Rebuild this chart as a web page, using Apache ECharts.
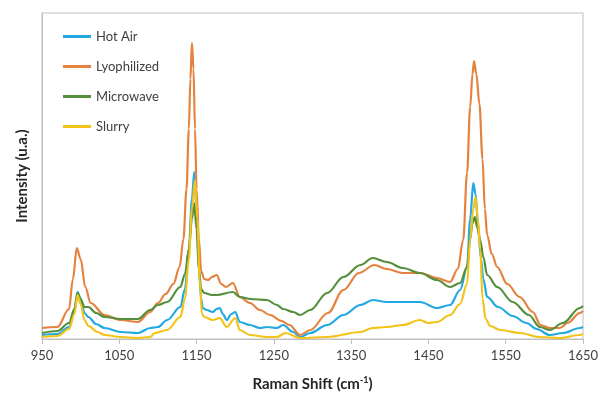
<!DOCTYPE html>
<html>
<head>
<meta charset="utf-8">
<script src="https://cdn.jsdelivr.net/npm/echarts@6/dist/echarts.min.js"></script>
<style>
  html, body { margin: 0; padding: 0; background: #fff; }
  #chart { width: 612px; height: 400px; }
</style>
</head>
<body>
<div id="chart"></div>
<script>
// Raman shift ticks (cm-1)
var xTicks = [950, 1050, 1150, 1250, 1350, 1450, 1550, 1650]
var seriesNames = ['Hot Air', 'Lyophilized', 'Microwave', 'Slurry']

// Hot Air
var hotAirX = [950, 970, 985, 992, 996, 1000, 1005, 1010, 1020, 1031, 1052, 1074, 1090, 1100, 1112, 1129, 1135, 1140, 1144, 1147, 1150, 1153, 1156, 1158, 1163, 1171, 1176, 1180, 1184, 1189, 1195, 1200, 1206, 1219, 1232, 1241, 1254, 1262, 1275, 1284, 1297, 1319, 1340, 1362, 1378, 1396, 1417, 1439, 1461, 1478, 1491, 1500, 1504, 1508, 1511, 1514, 1518, 1521, 1526, 1540, 1559, 1577, 1590, 1607, 1624, 1646, 1650]
var hotAirY = [4, 5, 12, 30, 47, 40, 26, 22, 15, 11, 7, 6, 11, 12, 19, 32, 50, 90, 140, 167, 130, 70, 40, 31, 29, 27, 30, 31, 25, 19, 25, 27, 17, 14, 11, 12, 11, 14, 7, 2, 6, 14, 24, 34, 39, 37, 37, 37, 31, 34, 49, 72, 120, 156, 145, 116, 80, 60, 42, 32, 23, 16, 10, 4, 6, 11, 12]

// Lyophilized
var lyoX = [950, 970, 985, 990, 995, 1000, 1006, 1013, 1031, 1052, 1074, 1090, 1100, 1110, 1120, 1128, 1133, 1137, 1140, 1142, 1144, 1146, 1148, 1150, 1153, 1156, 1160, 1165, 1170, 1176, 1182, 1188, 1197, 1206, 1219, 1232, 1245, 1260, 1270, 1284, 1297, 1320, 1340, 1360, 1380, 1396, 1417, 1440, 1461, 1478, 1488, 1495, 1500, 1504, 1507, 1509, 1512, 1516, 1520, 1523, 1526, 1532, 1539, 1552, 1568, 1585, 1595, 1607, 1620, 1630, 1646, 1650]
var lyoY = [11, 12, 30, 60, 91, 80, 52, 36, 24, 19, 17, 27, 36, 45, 55, 72, 100, 150, 210, 260, 296, 270, 210, 150, 100, 68, 60, 59, 62, 64, 55, 52, 56, 42, 36, 29, 24, 18, 14, 4, 9, 26, 49, 66, 74, 70, 66, 66, 61, 57, 70, 99, 166, 232, 265, 278, 265, 235, 180, 130, 104, 85, 72, 55, 42, 27, 14, 11, 11, 16, 26, 28]

// Microwave
var microX = [950, 970, 985, 992, 996, 1000, 1005, 1010, 1020, 1031, 1052, 1074, 1090, 1100, 1112, 1129, 1135, 1140, 1144, 1147, 1150, 1153, 1156, 1160, 1170, 1176, 1197, 1206, 1220, 1241, 1254, 1262, 1275, 1284, 1297, 1319, 1340, 1362, 1378, 1396, 1417, 1439, 1461, 1478, 1491, 1500, 1504, 1507, 1510, 1513, 1517, 1521, 1526, 1539, 1559, 1580, 1594, 1607, 1624, 1646, 1650]
var microY = [6, 8, 16, 30, 46, 40, 32, 32, 26, 22, 20, 20, 29, 34, 37, 52, 65, 90, 120, 136, 110, 70, 50, 46, 44, 44, 47, 42, 40, 39, 34, 30, 27, 24, 29, 46, 62, 74, 81, 77, 71, 66, 59, 52, 56, 72, 100, 116, 122, 112, 99, 82, 64, 52, 37, 24, 12, 9, 16, 31, 33]

// Slurry
var slurryX = [950, 970, 985, 992, 996, 1000, 1005, 1010, 1022, 1031, 1052, 1074, 1090, 1096, 1112, 1129, 1135, 1140, 1144, 1148, 1151, 1154, 1157, 1160, 1171, 1180, 1189, 1200, 1206, 1219, 1241, 1254, 1265, 1284, 1319, 1362, 1378, 1396, 1417, 1439, 1450, 1461, 1478, 1491, 1500, 1504, 1508, 1511, 1514, 1517, 1520, 1524, 1530, 1543, 1568, 1594, 1620, 1646, 1650]
var slurryY = [2, 3, 10, 25, 44, 35, 19, 13, 7, 4, 2, 1, 2, 6, 9, 22, 40, 80, 130, 159, 120, 60, 25, 22, 19, 21, 12, 21, 9, 4, 2, 2, 6, 1, 2, 7, 11, 12, 14, 19, 16, 17, 24, 35, 55, 100, 130, 142, 120, 90, 40, 20, 13, 9, 6, 2, 1, 4, 5]

var colors = ['#22a9e1', '#e5823e', '#548f3c', '#f2c318']
var X0 = 950

function pairs(xs, ys) {
  var out = []
  for (var i = 0; i < xs.length; i++) {
    out.push([xs[i] - X0, ys[i]])
  }
  return out
}

var seriesData = [pairs(hotAirX, hotAirY), pairs(lyoX, lyoY), pairs(microX, microY), pairs(slurryX, slurryY)]

var series = seriesNames.map(function (name, i) {
  return {
    name: name,
    type: 'line',
    data: seriesData[i],
    showSymbol: false,
    smooth: 0.35,
    smoothMonotone: 'x',
    lineStyle: { color: colors[i], width: 2.2 },
    itemStyle: { color: colors[i] },
    z: 2 + i
  }
})

const chart = echarts.init(document.getElementById('chart'))
var option = {
  backgroundColor: '#fff',
  animation: false,
  textStyle: { fontFamily: 'Lato' },
  legend: {
    orient: 'vertical',
    left: 58,
    top: 25,
    itemWidth: 28,
    itemHeight: 3,
    itemGap: 17,
    icon: 'rect',
    textStyle: { color: '#404040', fontSize: 13, fontFamily: 'Lato' },
    data: seriesNames
  },
  grid: {
    left: 42,
    right: 29,
    top: 13,
    bottom: 61,
    show: true,
    borderColor: '#bfbfbf',
    borderWidth: 1
  },
  xAxis: {
    type: 'value',
    min: 0,
    max: xTicks[xTicks.length - 1] - X0,
    interval: 100,
    name: '{a|Raman Shift (cm}{s|-1}{a|)}',
    nameLocation: 'middle',
    nameGap: 37,
    nameTextStyle: {
      rich: {
        a: { fontSize: 15, fontWeight: 'bold', color: '#262626', fontFamily: 'Lato' },
        s: { fontSize: 9, fontWeight: 'bold', color: '#262626', fontFamily: 'Lato', verticalAlign: 'top', padding: [0, 0, 8, 0] }
      }
    },
    axisLine: { show: true, lineStyle: { color: '#bfbfbf' } },
    axisTick: { show: true, inside: false, length: 5, lineStyle: { color: '#bfbfbf' } },
    axisLabel: {
      color: '#404040',
      fontSize: 13,
      margin: 10,
      formatter: function (v) { return v + X0 }
    },
    splitLine: { show: false }
  },
  yAxis: {
    type: 'value',
    min: 0,
    max: 326,
    name: 'Intensity (u.a.)',
    nameLocation: 'middle',
    nameGap: 12,
    nameTextStyle: { fontSize: 15, fontWeight: 'bold', color: '#262626', fontFamily: 'Lato' },
    axisLine: { show: true, lineStyle: { color: '#bfbfbf' } },
    axisTick: { show: false },
    axisLabel: { show: false },
    splitLine: { show: false }
  },
  series: series
}
chart.setOption(option)
</script>
</body>
</html>
